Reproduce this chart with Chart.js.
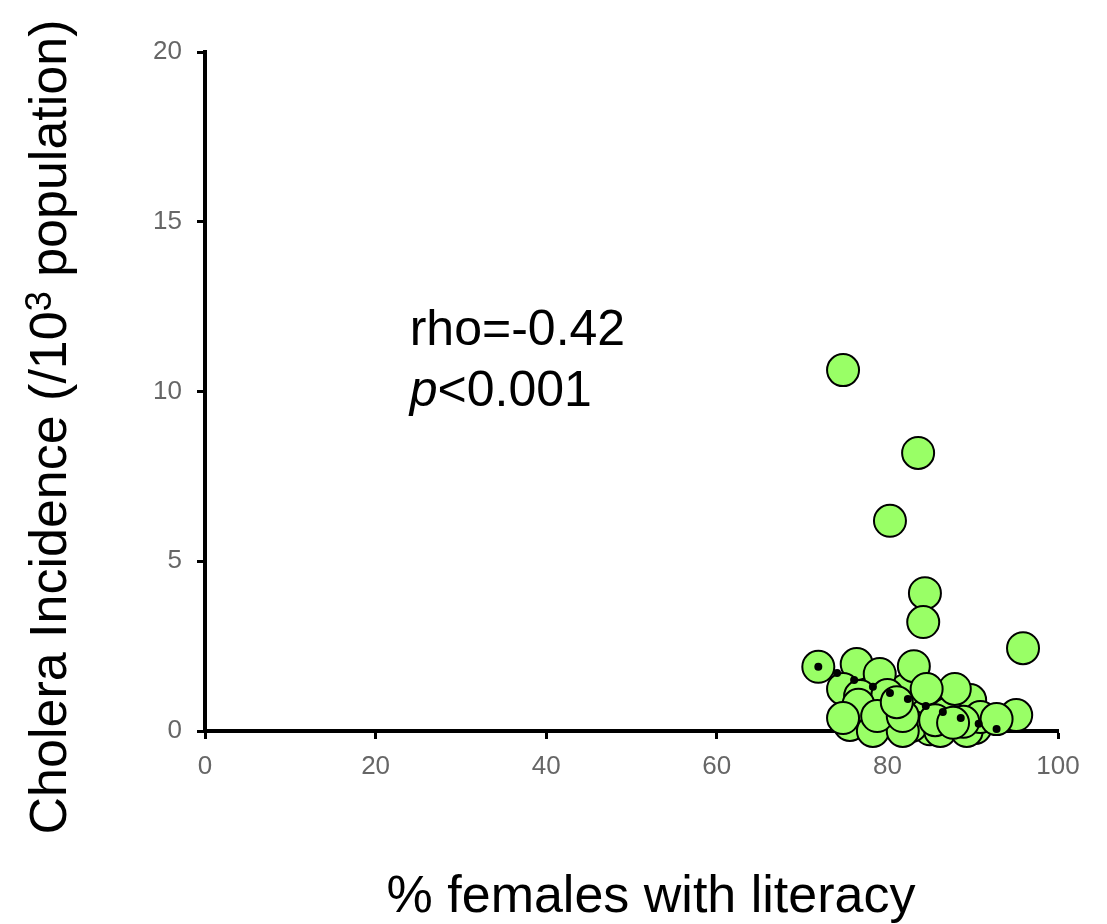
<!DOCTYPE html>
<html>
<head>
<meta charset="utf-8">
<script src="https://cdn.jsdelivr.net/npm/chart.js@4/dist/chart.umd.min.js"></script>
<style>
  html, body { margin: 0; padding: 0; background: #fff; }
  canvas { display: block; }
</style>
</head>
<body>
<canvas id="chart" width="1107" height="924"></canvas>
<script>
// % females with literacy vs cholera incidence (per 1000)
const literacy = [
  78.0, 83.2, 86.8, 84.4, 82.1, 80.3, 88.5, 90.3, 75.6, 89.7, 85.0, 87.0, 79.5, 77.2, 82.8,
  78.3, 81.8, 86.2, 89.3,
  74.8, 83.6, 80.3, 84.4, 84.2, 95.9, 95.1, 71.9, 76.4, 79.1, 83.1, 87.9, 84.6, 74.8,
  76.8, 80.0, 76.6, 74.8, 78.8, 81.8, 85.6, 90.9, 92.8, 88.9, 81.1, 87.7
];
const incidence = [
  0.12, 0.62, 0.77, 0.91, 1.20, 0.62, 0.62, 0.09, 0.18, 0.91, 0.05, 0.50, 0.30, 1.40, 0.15,
  0.00, 0.00, 0.00, 0.00,
  10.63, 8.19, 6.19, 4.06, 3.21, 2.44, 0.47, 1.89, 1.97, 1.68, 1.91, 1.24, 1.24, 1.24,
  1.03, 1.06, 0.77, 0.38, 0.44, 0.44, 0.32, 0.41, 0.35, 0.27, 0.85, 0.24
];

// fitted trend (small black dots)
const trendX = [71.9, 74.1, 76.1, 78.3, 80.3, 82.4, 84.5, 86.5, 88.6, 90.7, 92.8];
const trendY = [1.89, 1.71, 1.50, 1.30, 1.12, 0.94, 0.74, 0.56, 0.38, 0.21, 0.06];

const xTicks = [0, 20, 40, 60, 80, 100];
const yTicks = [0, 5, 10, 15, 20];

const FONT = "'Liberation Sans', Arial, Helvetica, sans-serif";

const textPlugin = {
  id: 'texts',
  afterDraw(chart) {
    const ctx = chart.ctx;
    const xs = chart.scales.x;
    const ys = chart.scales.y;
    ctx.save();
    ctx.fillStyle = '#000';

    // x axis title
    ctx.font = `52px ${FONT}`;
    ctx.textAlign = 'center';
    ctx.textBaseline = 'alphabetic';
    ctx.fillText('% females with literacy', 651, 912);

    // y axis title with superscript
    const partA = 'Cholera Incidence (/10';
    const partB = '3';
    const partC = ' population)';
    ctx.font = `52px ${FONT}`;
    const wA = ctx.measureText(partA).width;
    const wC = ctx.measureText(partC).width;
    ctx.font = `36px ${FONT}`;
    const wB = ctx.measureText(partB).width;
    const total = wA + wB + wC;
    ctx.translate(66, 427);
    ctx.rotate(-Math.PI / 2);
    ctx.textAlign = 'left';
    let x0 = -total / 2;
    ctx.font = `52px ${FONT}`;
    ctx.fillText(partA, x0, 0);
    ctx.font = `36px ${FONT}`;
    ctx.fillText(partB, x0 + wA, -15);
    ctx.font = `52px ${FONT}`;
    ctx.fillText(partC, x0 + wA + wB, 0);
    ctx.restore();

    // correlation annotation
    ctx.save();
    ctx.fillStyle = '#000';
    ctx.textAlign = 'left';
    ctx.textBaseline = 'alphabetic';
    const ax = xs.getPixelForValue(24.0);
    ctx.font = `50px ${FONT}`;
    ctx.fillText('rho=-0.42', ax, ys.getPixelForValue(11.37));
    const by = ys.getPixelForValue(9.57);
    ctx.font = `italic 50px ${FONT}`;
    ctx.fillText('p', ax, by);
    const wp = ctx.measureText('p').width;
    ctx.font = `50px ${FONT}`;
    ctx.fillText('<0.001', ax + wp, by);
    ctx.restore();
  }
};

const tickFont = { family: FONT, size: 26 };

new Chart(document.getElementById('chart'), {
  type: 'scatter',
  data: {
    datasets: [
      {
        label: 'trend',
        data: trendX.map((x, i) => ({ x: x, y: trendY[i] })),
        pointRadius: 4,
        pointBackgroundColor: '#000',
        pointBorderWidth: 0,
        order: 0,
        clip: false
      },
      {
        label: 'districts',
        data: literacy.map((x, i) => ({ x: x, y: incidence[i] })),
        pointRadius: 16,
        pointBackgroundColor: '#99ff66',
        pointBorderColor: '#000',
        pointBorderWidth: 2,
        order: 1,
        clip: false
      }
    ]
  },
  options: {
    responsive: false,
    animation: false,
    events: [],
    layout: { padding: { top: 52, right: 49, left: 0, bottom: 0 } },
    plugins: {
      legend: { display: false },
      tooltip: { enabled: false }
    },
    scales: {
      x: {
        type: 'linear',
        min: 0,
        max: 100,
        afterBuildTicks: s => { s.ticks = xTicks.map(v => ({ value: v })); },
        ticks: { color: '#666', font: tickFont, padding: 12, maxRotation: 0 },
        grid: { drawOnChartArea: false, tickLength: 8, tickColor: '#000', tickWidth: 3 },
        border: { color: '#000', width: 4 },
        afterFit: s => { s.height = 193; }
      },
      y: {
        type: 'linear',
        min: 0,
        max: 20,
        afterBuildTicks: s => { s.ticks = yTicks.map(v => ({ value: v })); },
        ticks: { color: '#666', font: tickFont, padding: 15 },
        grid: { drawOnChartArea: false, tickLength: 8, tickColor: '#000', tickWidth: 3 },
        border: { color: '#000', width: 4 },
        afterFit: s => { s.width = 205; }
      }
    }
  },
  plugins: [textPlugin]
});
</script>
</body>
</html>
